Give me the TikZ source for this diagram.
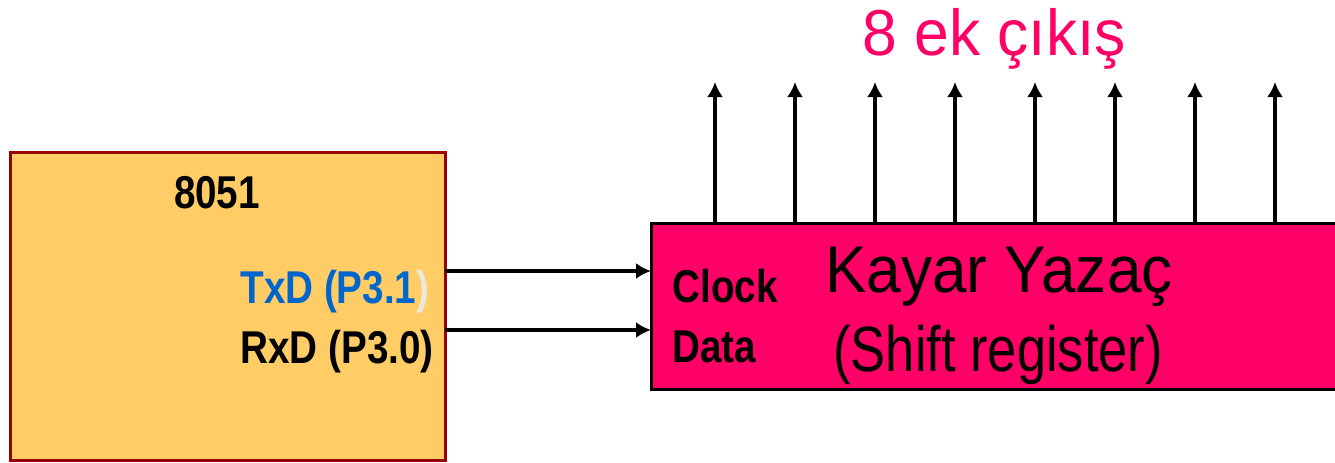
\documentclass[tikz,border=0pt]{standalone}
\usepackage{fontspec}
\setmainfont{Liberation Sans}
\newfontfamily\narrowsans[FakeStretch=0.84]{Liberation Sans}
\newfontfamily\shiftsans[FakeStretch=0.82]{Liberation Sans}
\newfontfamily\titlesans[FakeStretch=0.94]{Liberation Sans}
\newfontfamily\outsans[FakeStretch=0.96]{Liberation Sans}
\usepackage{tikz}
\usetikzlibrary{arrows.meta}
\definecolor{mcuorange}{HTML}{FFCC66}
\definecolor{mcured}{HTML}{990000}
\definecolor{regpink}{HTML}{FF0066}
\definecolor{pinblue}{HTML}{0066CC}
\definecolor{fadedparen}{HTML}{EEE8DA}

\begin{document}
\begin{tikzpicture}[x=0.5pt,y=-0.5pt,>={Latex[length=7.5pt,width=8pt]},
  wire/.style={line width=1.6pt},
  pinlbl/.style={anchor=base west,inner sep=0pt,font=\narrowsans\bfseries\fontsize{23}{26}\selectfont}]
  \useasboundingbox (0,0) rectangle (1335,462);
  \clip (0,0) rectangle (1335,462);
  % microcontroller
  \node[draw=mcured, fill=mcuorange, line width=1.5pt,
        minimum width=217.5pt, minimum height=154pt] (mcu) at (227.5,306) {};
  \node[anchor=base,inner sep=0pt,font=\narrowsans\bfseries\fontsize{23}{26}\selectfont]
    (lbl8051) at (217,208) {8051};
  \node[pinlbl, text=pinblue] (txd) at (240,303) {TxD (P3.1\textcolor{fadedparen}{)}};
  \node[pinlbl] (rxd) at (240,363) {RxD (P3.0)};
  % shift register
  \node[draw=black, fill=regpink, line width=1.5pt,
        minimum width=354.5pt, minimum height=83pt] (reg) at (1005.5,306) {};
  \node[pinlbl] (clk) at (672,302) {Clock};
  \node[pinlbl] (dat) at (672,362) {Data};
  \node[anchor=base west,inner sep=0pt,font=\titlesans\fontsize{33}{36}\selectfont]
    (regname) at (825,292) {Kayar Yazaç};
  \node[anchor=base west,inner sep=0pt,font=\shiftsans\fontsize{32}{35}\selectfont]
    (regsub) at (833,371) {(Shift register)};
  % serial lines
  \coordinate (txout) at (445,271);
  \coordinate (clkin) at (651,271);
  \coordinate (rxout) at (445,330);
  \coordinate (datin) at (651,330);
  \draw[wire,->] (txout) -- (clkin);
  \draw[wire,->] (rxout) -- (datin);
  % parallel outputs
  \foreach \i in {0,...,7} {
    \coordinate (q\i) at (715+80*\i,82);
    \draw[wire,->] (q\i |- reg.north) -- (q\i);
  }
  \node[anchor=base west,inner sep=0pt,text=regpink,font=\outsans\fontsize{32.5}{36}\selectfont]
    (outs) at (862,55) {8 ek çıkış};
\end{tikzpicture}
\end{document}
